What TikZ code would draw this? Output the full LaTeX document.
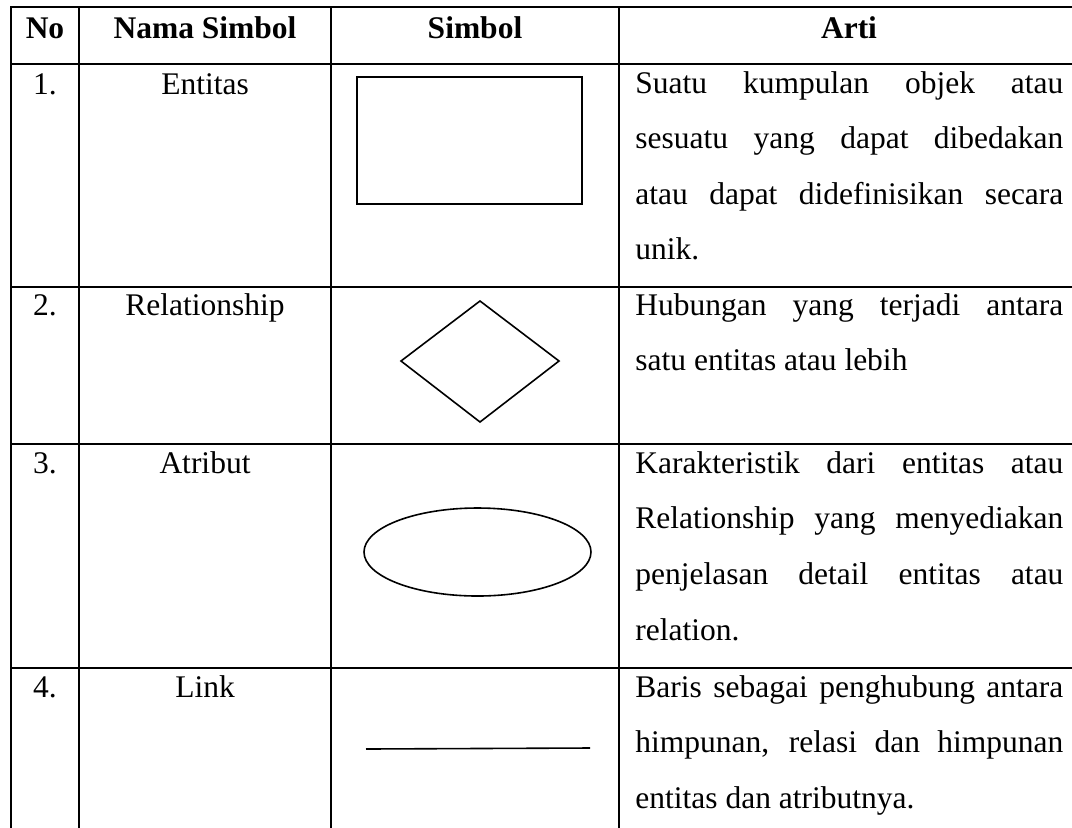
\documentclass[tikz,border=0pt]{standalone}
\usepackage{fontspec}
\setmainfont{Liberation Serif}
\begin{document}
\begin{tikzpicture}[x=0.5pt,y=-0.5pt,
  grid/.style={line width=1pt,line cap=rect},
  shp/.style={line width=0.8pt},
  txt/.style={inner sep=0pt,anchor=base,font=\fontsize{15.75}{27.75}\selectfont},
  hd/.style={txt,font=\fontsize{15.75}{27.75}\selectfont\bfseries},
  ln/.style={inner sep=0pt,anchor=base west,font=\fontsize{15.75}{27.75}\selectfont}]
\useasboundingbox (0,0) rectangle (1072,827);
\fill[white] (0,0) rectangle (1072,827);
\clip (0,0) rectangle (1072,827);
% grid
\foreach \x in {11,79,331,619,1079} \draw[grid] (\x,7) -- (\x,840);
\foreach \y in {7,64,287,444,668} \draw[grid] (11,\y) -- (1079,\y);
% header
\node[hd] (hno) at (45,38) {No};
\node[hd] (hnama) at (205,38) {Nama Simbol};
\node[hd] (hsim) at (475,38) {Simbol};
\node[hd] (harti) at (849,38) {Arti};
% column 1 and 2
\node[txt] (n1) at (45,94) {1.};
\node[txt] (s1) at (205,94) {Entitas};
\node[txt] (n2) at (45,315) {2.};
\node[txt] (s2) at (205,315) {Relationship};
\node[txt] (n3) at (45,473) {3.};
\node[txt] (s3) at (205,473) {Atribut};
\node[txt] (n4) at (45,697) {4.};
\node[txt] (s4) at (205,697) {Link};
% symbols
\draw[shp] (357,77) rectangle (582,204);
\draw[shp] (480,301) -- (559,361) -- (480,422) -- (401,361) -- cycle;
\draw[shp] (477.5,552) ellipse [x radius=113.5, y radius=44];
\draw[shp] (366,749) -- (590,748);
% descriptions
\node[ln] (a11) at (635,93) {\makebox[214pt][s]{Suatu kumpulan objek atau}};
\node[ln] (a12) at (635,148.5) {\makebox[214pt][s]{sesuatu yang dapat dibedakan}};
\node[ln] (a13) at (635,204) {\makebox[214pt][s]{atau dapat didefinisikan secara}};
\node[ln] (a14) at (635,259) {unik.};
\node[ln] (a21) at (635,315) {\makebox[214pt][s]{Hubungan yang terjadi antara}};
\node[ln] (a22) at (635,370) {satu entitas atau lebih};
\node[ln] (a31) at (635,473) {\makebox[214pt][s]{Karakteristik dari entitas atau}};
\node[ln] (a32) at (635,528.5) {\makebox[214pt][s]{Relationship yang menyediakan}};
\node[ln] (a33) at (635,584.5) {\makebox[214pt][s]{penjelasan detail entitas atau}};
\node[ln] (a34) at (635,640) {relation.};
\node[ln] (a41) at (635,697) {\makebox[214pt][s]{Baris sebagai penghubung antara}};
\node[ln] (a42) at (635,752.5) {\makebox[214pt][s]{himpunan, relasi dan himpunan}};
\node[ln] (a43) at (635,808) {entitas dan atributnya.};
\end{tikzpicture}
\end{document}
